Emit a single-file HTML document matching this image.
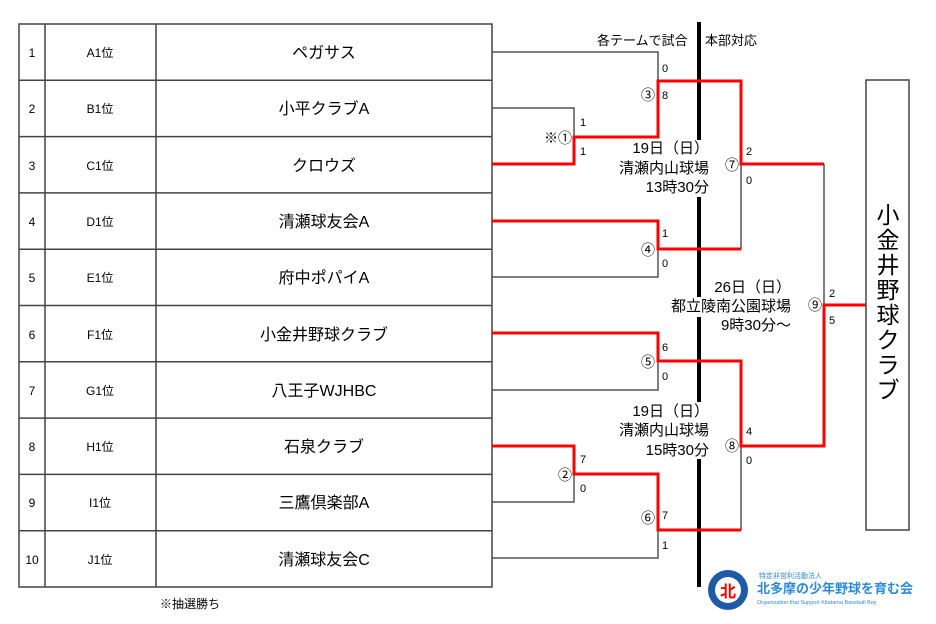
<!DOCTYPE html>
<html><head><meta charset="utf-8"><style>
html,body{margin:0;padding:0;background:#fff;}
svg{display:block;}
text{font-family:"Liberation Sans","Noto Sans CJK JP",sans-serif;fill:#000;}
</style></head><body>
<svg width="936" height="624" viewBox="0 0 936 624" xmlns="http://www.w3.org/2000/svg">
<g stroke="#444" stroke-width="1.5" fill="none">
<rect x="19" y="24" width="473" height="563"/>
<line x1="45" y1="24" x2="45" y2="587"/>
<line x1="156" y1="24" x2="156" y2="587"/>
<line x1="19" y1="80.3" x2="492" y2="80.3"/>
<line x1="19" y1="136.6" x2="492" y2="136.6"/>
<line x1="19" y1="192.9" x2="492" y2="192.9"/>
<line x1="19" y1="249.2" x2="492" y2="249.2"/>
<line x1="19" y1="305.5" x2="492" y2="305.5"/>
<line x1="19" y1="361.8" x2="492" y2="361.8"/>
<line x1="19" y1="418.1" x2="492" y2="418.1"/>
<line x1="19" y1="474.4" x2="492" y2="474.4"/>
<line x1="19" y1="530.7" x2="492" y2="530.7"/>
</g>
<g font-size="12" text-anchor="middle">
<text x="32" y="57">1</text><text x="32" y="113">2</text><text x="32" y="170">3</text><text x="32" y="226">4</text><text x="32" y="282">5</text>
<text x="32" y="339">6</text><text x="32" y="395">7</text><text x="32" y="451">8</text><text x="32" y="507">9</text><text x="32" y="564">10</text>
<text x="100" y="57">A1位</text><text x="100" y="113">B1位</text><text x="100" y="170">C1位</text><text x="100" y="226">D1位</text><text x="100" y="282">E1位</text>
<text x="100" y="339">F1位</text><text x="100" y="395">G1位</text><text x="100" y="451">H1位</text><text x="100" y="507">I1位</text><text x="100" y="564">J1位</text>
</g>
<g font-size="16" text-anchor="middle">
<text x="324" y="58">ペガサス</text><text x="324" y="114">小平クラブA</text><text x="324" y="171">クロウズ</text><text x="324" y="227">清瀬球友会A</text><text x="324" y="283">府中ポパイA</text>
<text x="324" y="340">小金井野球クラブ</text><text x="324" y="396">八王子WJHBC</text><text x="324" y="452">石泉クラブ</text><text x="324" y="508">三鷹倶楽部A</text><text x="324" y="565">清瀬球友会C</text>
</g>
<text x="160" y="608" font-size="12">※抽選勝ち</text>

<g stroke="#555" stroke-width="1.5" fill="none">
<polyline points="492,52 658,52 658,81"/>
<polyline points="492,108 574,108 574,137"/>
<polyline points="492,277 658,277 658,249"/>
<polyline points="741,164 741,249"/>
<polyline points="824,164 824,305"/>
<polyline points="492,390 658,390 658,361"/>
<polyline points="492,502 574,502 574,474"/>
<polyline points="492,558 658,558 658,530"/>
<polyline points="741,446 741,530"/>
</g>
<g stroke="#000" stroke-width="4">
<line x1="699" y1="22" x2="699" y2="140"/>
<line x1="699" y1="197" x2="699" y2="297"/>
<line x1="699" y1="317" x2="699" y2="402"/>
<line x1="699" y1="459" x2="699" y2="587"/>
</g>
<g stroke="#f00" stroke-width="3" fill="none">
<polyline points="492,164 574,164 574,137 658,137 658,81 741,81 741,164 824,164"/>
<polyline points="492,221 658,221 658,249 741,249"/>
<polyline points="492,333 658,333 658,361 741,361 741,446 824,446 824,305 866,305"/>
<polyline points="492,446 574,446 574,474 658,474 658,530 741,530"/>
</g>
<rect x="866" y="80" width="43" height="450" fill="#fff" stroke="#444" stroke-width="1.5"/>
<g font-size="23" text-anchor="middle">
<text x="888" y="223">小</text><text x="888" y="248">金</text><text x="888" y="273">井</text><text x="888" y="298">野</text>
<text x="888" y="323">球</text><text x="888" y="348">ク</text><text x="888" y="373">ラ</text><text x="888" y="398">ブ</text>
</g>
<g font-size="11">
<text x="662" y="72">0</text><text x="662" y="99">8</text>
<text x="580" y="126">1</text><text x="580" y="155">1</text>
<text x="662" y="237">1</text><text x="662" y="267">0</text>
<text x="746" y="155">2</text><text x="746" y="184">0</text>
<text x="829" y="297">2</text><text x="829" y="324">5</text>
<text x="662" y="351">6</text><text x="662" y="380">0</text>
<text x="746" y="435">4</text><text x="746" y="464">0</text>
<text x="580" y="463">7</text><text x="580" y="492">0</text>
<text x="662" y="519">7</text><text x="662" y="549">1</text>
</g>
<g font-size="14" text-anchor="end">
<text x="655" y="100">③</text><text x="572" y="143">※①</text><text x="655" y="255">④</text>
<text x="739" y="170">⑦</text><text x="822" y="310">⑨</text><text x="655" y="367">⑤</text>
<text x="739" y="451">⑧</text><text x="572" y="480">②</text><text x="655" y="523">⑥</text>
</g>
<g font-size="15" text-anchor="end">
<text x="709" y="153">19日（日）</text>
<text x="709" y="173">清瀬内山球場</text>
<text x="709" y="192">13時30分</text>
<text x="791" y="292">26日（日）</text>
<text x="791" y="311">都立陵南公園球場</text>
<text x="791" y="330">9時30分～</text>
<text x="709" y="416">19日（日）</text>
<text x="709" y="435">清瀬内山球場</text>
<text x="709" y="455">15時30分</text>
</g>
<text x="597" y="45" font-size="13">各テームで試合</text>
<text x="705" y="45" font-size="13">本部対応</text>
<circle cx="728" cy="590" r="20" fill="#1e5aa8"/>
<circle cx="728" cy="590" r="13" fill="#fff"/>
<text x="728" y="597" font-size="16" font-weight="bold" text-anchor="middle" style="fill:#e00">北</text>
<text x="759" y="578" font-size="7" style="fill:#2a8ad8">特定非営利活動法人</text>
<text x="757" y="593" font-size="13" font-weight="bold" style="fill:#2a8ad8">北多摩の少年野球を育む会</text>
<text x="757" y="604" font-size="5.5" style="fill:#2a8ad8">Organization that Support Kitatama Baseball Boy</text>
</svg>
</body></html>
